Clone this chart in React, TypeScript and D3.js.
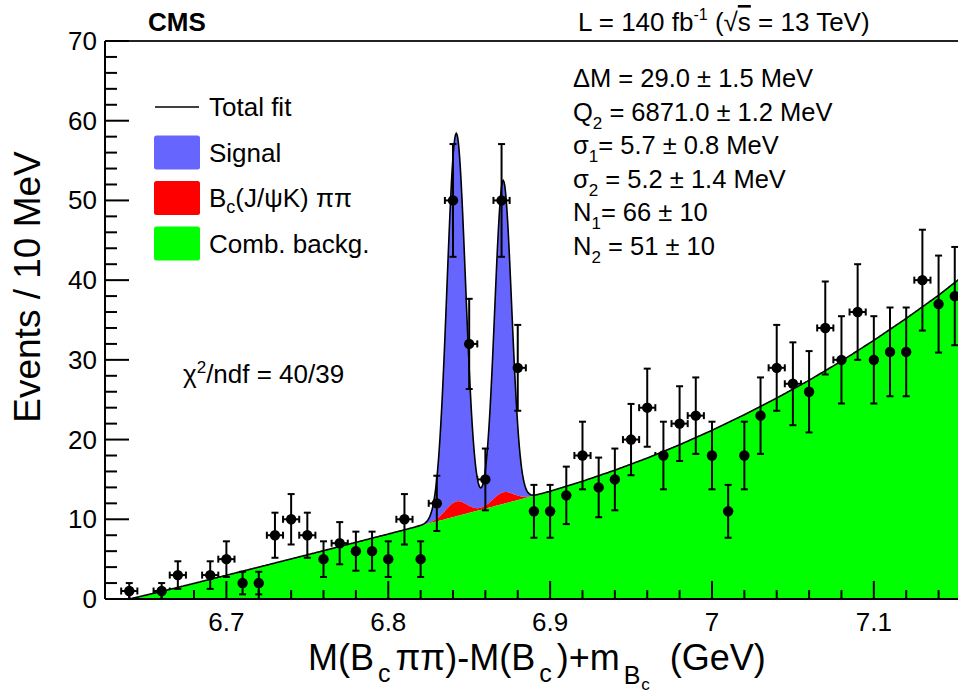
import React from 'react';
import * as d3 from 'd3';

// ---------- data ----------
const binCenters = [
  6.64, 6.65, 6.66, 6.67, 6.68, 6.69, 6.70, 6.71, 6.72, 6.73, 6.74, 6.75, 6.76,
  6.77, 6.78, 6.79, 6.80, 6.81, 6.82, 6.83, 6.84, 6.85, 6.86, 6.87, 6.88, 6.89,
  6.90, 6.91, 6.92, 6.93, 6.94, 6.95, 6.96, 6.97, 6.98, 6.99, 7.00, 7.01, 7.02,
  7.03, 7.04, 7.05, 7.06, 7.07, 7.08, 7.09, 7.10, 7.11, 7.12, 7.13, 7.14, 7.15,
];
const counts = [
  1, 0, 1, 3, 0, 3, 5, 2, 2, 8, 10, 8, 5,
  7, 6, 6, 5, 10, 5, 12, 50, 32, 15, 50, 29, 11,
  11, 13, 18, 14, 15, 20, 24, 18, 22, 23, 18, 11, 18,
  23, 29, 27, 26, 34, 30, 36, 30, 31, 31, 40, 37, 38,
];
const binWidth = 0.01;

// combinatorial background (fit curve)
const bgX = [
  6.64, 6.66, 6.68, 6.70, 6.72, 6.74, 6.76, 6.78, 6.80, 6.82, 6.84, 6.86, 6.88,
  6.90, 6.92, 6.94, 6.96, 6.98, 7.00, 7.02, 7.04, 7.06, 7.08, 7.10, 7.12, 7.14, 7.16,
];
const bgY = [
  0, 0.95, 1.96, 2.98, 4.0, 5.03, 6.06, 7.11, 8.15, 9.21, 10.27, 11.34, 12.41,
  13.52, 14.77, 16.16, 17.68, 19.35, 21.16, 23.12, 25.21, 27.44, 29.85, 32.45, 35.2, 38.1, 41.3,
];

// signal fit parameters (from the chart: Q2 - dM, Q2, sigma1/2, N1/2)
const peakMeans = [6.842, 6.871];
const peakSigmas = [0.0057, 0.0052];
const peakYields = [66, 51];

// B_c(J/psi K) pi pi reflection component
const reflMeans = [6.842, 6.871];
const reflSigmas = [0.0065, 0.0065];
const reflHeights = [1.85, 1.45];

const xTickMajor = [6.7, 6.8, 6.9, 7.0, 7.1];
const xTickLabels = ['6.7', '6.8', '6.9', '7', '7.1'];
const yTickMajor = [0, 10, 20, 30, 40, 50, 60, 70];
const yTickLabels = ['0', '10', '20', '30', '40', '50', '60', '70'];

const paramLines = [
  { main: 'ΔM', sub: '', rest: ' = 29.0 ± 1.5 MeV' },
  { main: 'Q', sub: '2', rest: ' = 6871.0 ± 1.2 MeV' },
  { main: 'σ', sub: '1', rest: '= 5.7 ± 0.8 MeV' },
  { main: 'σ', sub: '2', rest: ' = 5.2 ± 1.4 MeV' },
  { main: 'N', sub: '1', rest: '= 66 ± 10' },
  { main: 'N', sub: '2', rest: ' = 51 ± 10' },
];

const legendItems = [
  { kind: 'line', color: '#000', label: 'Total fit' },
  { kind: 'box', color: '#6666ff', label: 'Signal' },
  { kind: 'box', color: '#ff0000', label: 'Bc' },
  { kind: 'box', color: '#00ff00', label: 'Comb. backg.' },
];

// ---------- layout ----------
const W = 958;
const H = 698;
const L = 105;
const R = 958;
const T = 41;
const B = 599;
const FONT = "'Liberation Sans', Arial, Helvetica, sans-serif";

export default function App() {
  const x = d3.scaleLinear().domain([6.625, 7.152]).range([L, R]);
  const y = d3.scaleLinear().domain([0, 70]).range([B, T]);
  const bgScale = d3.scaleLinear().domain(bgX).range(bgY).clamp(true);

  const gauss = (v: number, m: number, s: number) => Math.exp(-((v - m) * (v - m)) / (2 * s * s));
  const grid = d3.range(6.64, 7.1525, 0.0005);
  const curve = grid.map((v) => {
    const bg = bgScale(v);
    let refl = 0;
    reflMeans.forEach((m, i) => (refl += reflHeights[i] * gauss(v, m, reflSigmas[i])));
    let sig = 0;
    peakMeans.forEach((m, i) => {
      const amp = (peakYields[i] * binWidth) / (peakSigmas[i] * Math.sqrt(2 * Math.PI));
      sig += amp * gauss(v, m, peakSigmas[i]);
    });
    return { v, bg, br: bg + refl, tot: bg + refl + sig };
  });

  type P = { v: number; bg: number; br: number; tot: number };
  const green = d3.area<P>().x((d) => x(d.v)).y0(y(0)).y1((d) => y(d.bg))(curve) || '';
  const red = d3.area<P>().x((d) => x(d.v)).y0((d) => y(d.bg)).y1((d) => y(d.br))(curve) || '';
  const blue = d3.area<P>().x((d) => x(d.v)).y0((d) => y(d.br)).y1((d) => y(d.tot))(curve) || '';
  const line = d3.line<P>().x((d) => x(d.v)).y((d) => y(d.tot))(curve) || '';

  const pts = binCenters.map((c, i) => ({ c, n: counts[i] })).filter((d) => d.n > 0);

  const xMinor = d3.range(332, 358).map((i) => i * 0.02);
  const yMinor = d3.range(0, 36).map((i) => i * 2);

  const cap = 3.5;
  const hw = (binWidth / 2) * (x(1) - x(0));

  return (
    <svg width={W} height={H} style={{ position: 'absolute', left: 0, top: 0, background: '#fff' }} fontFamily={FONT}>
      <defs>
        <clipPath id="plot">
          <rect x={L} y={T} width={R - L} height={B - T} />
        </clipPath>
      </defs>
      <rect x={0} y={0} width={W} height={H} fill="#fff" />

      <g clipPath="url(#plot)">
        {/* horizontal error bars (drawn under the fit fills) */}
        {pts.map((d, i) => (
          <g key={'h' + i} stroke="#000" strokeWidth={2}>
            <line x1={x(d.c) - hw} x2={x(d.c) + hw} y1={y(d.n)} y2={y(d.n)} />
            <line x1={x(d.c) - hw} x2={x(d.c) - hw} y1={y(d.n) - cap} y2={y(d.n) + cap} />
            <line x1={x(d.c) + hw} x2={x(d.c) + hw} y1={y(d.n) - cap} y2={y(d.n) + cap} />
          </g>
        ))}
        <path d={blue} fill="#6666ff" />
        <path d={red} fill="#ff0000" />
        <path d={green} fill="#00ff00" />
        <path d={line} fill="none" stroke="#000" strokeWidth={1.6} />
        {/* vertical error bars and markers */}
        {pts.map((d, i) => {
          const e = Math.sqrt(d.n);
          const yl = y(Math.max(0, d.n - e));
          const yh = y(d.n + e);
          return (
            <g key={'v' + i} stroke="#000" strokeWidth={2}>
              <line x1={x(d.c)} x2={x(d.c)} y1={yl} y2={yh} />
              <line x1={x(d.c) - cap} x2={x(d.c) + cap} y1={yh} y2={yh} />
              {d.n - e > 0 && <line x1={x(d.c) - cap} x2={x(d.c) + cap} y1={yl} y2={yl} />}
              <circle cx={x(d.c)} cy={y(d.n)} r={5.2} fill="#000" stroke="none" />
            </g>
          );
        })}
      </g>

      {/* axes frame */}
      <g stroke="#000" strokeWidth={2} fill="none">
        <line x1={L} x2={R} y1={B} y2={B} />
        <line x1={L} x2={L} y1={T} y2={B} />
        <line x1={L} x2={R} y1={T} y2={T} stroke="#222" />
        {xMinor.map((v, i) => {
          const major = xTickMajor.some((m) => Math.abs(m - v) < 1e-6);
          return <line key={'xt' + i} x1={x(v)} x2={x(v)} y1={B} y2={B - (major ? 18 : 9)} />;
        })}
        {yMinor.map((v, i) => (
          <line key={'yt' + i} x1={L} x2={L + (v % 10 === 0 ? 24 : 12)} y1={y(v)} y2={y(v)} />
        ))}
      </g>

      {/* tick labels */}
      <g fontSize={26} fill="#000">
        {xTickMajor.map((v, i) => (
          <text key={'xl' + i} x={x(v)} y={631} textAnchor="middle">
            {xTickLabels[i]}
          </text>
        ))}
        {yTickMajor.map((v, i) => (
          <text key={'yl' + i} x={97} y={y(v) + 9} textAnchor="end">
            {yTickLabels[i]}
          </text>
        ))}
      </g>

      {/* axis titles */}
      <text transform="translate(40,287) rotate(-90)" textAnchor="middle" fontSize={37}>
        Events / 10 MeV
      </text>
      <text x={308} y={670} fontSize={36}>
        <tspan>M(B</tspan>
        <tspan fontSize={25} dx={4} dy={12}>c</tspan>
        <tspan dx={5} dy={-12}>ππ)-M(B</tspan>
        <tspan fontSize={25} dx={4} dy={12}>c</tspan>
        <tspan dx={5} dy={-12}>)+m</tspan>
        <tspan fontSize={25} dx={4} dy={14}>B</tspan>
        <tspan fontSize={17} dx={1} dy={6}>c</tspan>
        <tspan dy={-20}>{'\u00a0 (GeV)'}</tspan>
      </text>

      {/* header */}
      <text x={148} y={31} fontSize={26} fontWeight="bold">CMS</text>
      <text x={578} y={31} fontSize={26}>
        <tspan>L = 140 fb</tspan>
        <tspan fontSize={16} dy={-11}>-1</tspan>
        <tspan dy={11}>{' ('}</tspan>
        <tspan>√</tspan>
        <tspan style={{ textDecoration: 'overline' }}>s</tspan>
        <tspan> = 13 TeV)</tspan>
      </text>

      {/* legend */}
      {legendItems.map((it, i) => {
        const cy = 107 + i * 45.5;
        return (
          <g key={'lg' + i}>
            {it.kind === 'line' ? (
              <line x1={155} x2={199} y1={cy} y2={cy} stroke="#000" strokeWidth={1.6} />
            ) : (
              <rect x={154} y={cy - 17} width={46} height={34} rx={2.5} fill={it.color} />
            )}
            {it.label === 'Bc' ? (
              <text x={209} y={cy + 9} fontSize={26}>
                <tspan>B</tspan>
                <tspan fontSize={18} dy={6}>c</tspan>
                <tspan dy={-6}>(J/ψK) ππ</tspan>
              </text>
            ) : (
              <text x={209} y={cy + 9} fontSize={26}>
                {it.label}
              </text>
            )}
          </g>
        );
      })}

      {/* fit parameters */}
      {paramLines.map((p, i) => (
        <text key={'pl' + i} x={573} y={87 + i * 33.6} fontSize={25.5}>
          <tspan>{p.main}</tspan>
          {p.sub && (
            <tspan fontSize={17} dy={8}>
              {p.sub}
            </tspan>
          )}
          <tspan dy={p.sub ? -8 : 0}>{p.rest}</tspan>
        </text>
      ))}

      <text x={183} y={383} fontSize={26}>
        <tspan>χ</tspan>
        <tspan fontSize={17} dy={-10}>2</tspan>
        <tspan dy={10}>/ndf = 40/39</tspan>
      </text>
    </svg>
  );
}
